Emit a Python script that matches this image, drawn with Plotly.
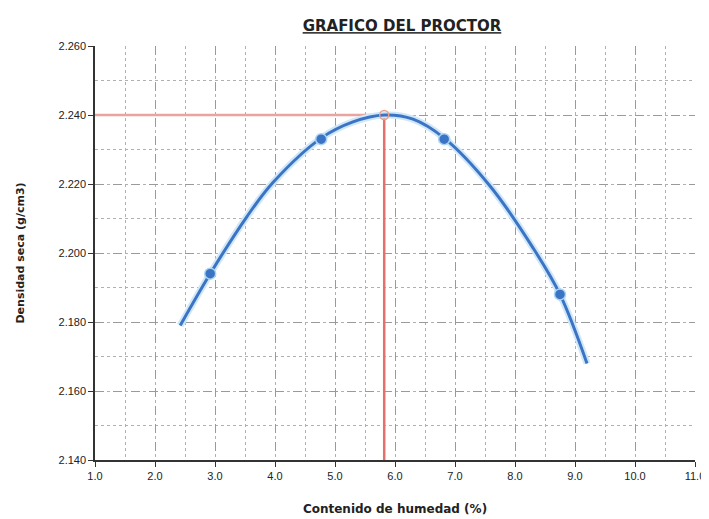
import plotly.graph_objects as go

# ensayo proctor - puntos medidos
humedad = [2.92, 4.77, 6.82, 8.75]
densidad = [2.194, 2.233, 2.233, 2.188]

# curva de ajuste
curva_x = [2.42, 2.92, 3.53, 3.97, 4.77, 5.30, 5.82, 6.30, 6.82, 7.58, 8.30, 8.75, 9.20]
curva_y = [2.179, 2.194, 2.2105, 2.2205, 2.2333, 2.2380, 2.2400, 2.2388, 2.2333, 2.2195, 2.2015, 2.188, 2.168]

# optimo
hum_opt = 5.82
dens_opt = 2.240

x_ticks = [1.0, 2.0, 3.0, 4.0, 5.0, 6.0, 7.0, 8.0, 9.0, 10.0, 11.0]
y_ticks = [2.140, 2.160, 2.180, 2.200, 2.220, 2.240, 2.260]

font = "Liberation Sans"
font_bold = "DejaVu Sans"
blue = "#3b74c4"

fig = go.Figure()

# lineas del optimo
fig.add_trace(go.Scatter(x=[x_ticks[0], hum_opt], y=[dens_opt, dens_opt], mode="lines",
                         line=dict(color="#eba3a0", width=2.5), showlegend=False, hoverinfo="skip"))
fig.add_trace(go.Scatter(x=[hum_opt, hum_opt], y=[y_ticks[0], dens_opt], mode="lines",
                         line=dict(color="#e4706c", width=2.5), showlegend=False, hoverinfo="skip"))

# brillo de la curva
fig.add_trace(go.Scatter(x=curva_x, y=curva_y, mode="lines", line=dict(color="#cfe7f8", width=7, shape="spline"),
                         showlegend=False, hoverinfo="skip"))
fig.add_trace(go.Scatter(x=curva_x, y=curva_y, mode="lines", line=dict(color=blue, width=3, shape="spline"),
                         showlegend=False))
fig.add_trace(go.Scatter(x=humedad, y=densidad, mode="markers",
                         marker=dict(color=blue, size=11, line=dict(color="#a9d3f2", width=1.5)), showlegend=False))
fig.add_trace(go.Scatter(x=[hum_opt], y=[dens_opt], mode="markers",
                         marker=dict(color="rgba(0,0,0,0)", size=9, line=dict(color="#e9a08a", width=1.5)),
                         showlegend=False))

axis_common = dict(
    showline=True, linecolor="#333333", linewidth=1.5, mirror=False,
    ticks="outside", ticklen=5, tickcolor="#333333",
    showgrid=True, gridcolor="#9a9a9a", gridwidth=1, griddash="dash",
    zeroline=False, automargin=False,
    tickfont=dict(family=font, size=11, color="#222222"),
)

fig.update_xaxes(
    range=[1.0, 11.0], tickvals=x_ticks, tickformat=".1f",
    minor=dict(dtick=0.5, showgrid=True, gridcolor="#b0b0b0", griddash="dot", ticks=""),
    title=dict(text="<b>Contenido de humedad (%)</b>", font=dict(family=font_bold, size=12, color="#222222"),
               standoff=24),
    **axis_common,
)
fig.update_yaxes(
    range=[2.140, 2.260], tickvals=y_ticks, tickformat=".3f",
    minor=dict(dtick=0.01, showgrid=True, gridcolor="#b0b0b0", griddash="dot", ticks=""),
    title=dict(text="<b>Densidad seca (g/cm3)</b>", font=dict(family=font_bold, size=11, color="#222222"),
               standoff=32),
    **axis_common,
)

# la pagina tiene 8px de margen en el body
fig.update_layout(
    width=701, height=511,
    margin=dict(l=87, r=14, t=38, b=59),
    paper_bgcolor="white", plot_bgcolor="white",
    title=dict(text="<b><u>GRAFICO DEL PROCTOR</u></b>", x=0.562, xanchor="center", y=0.965, yanchor="middle",
               font=dict(family=font_bold, size=15, color="#222222")),
)

fig.write_html("out.html")
